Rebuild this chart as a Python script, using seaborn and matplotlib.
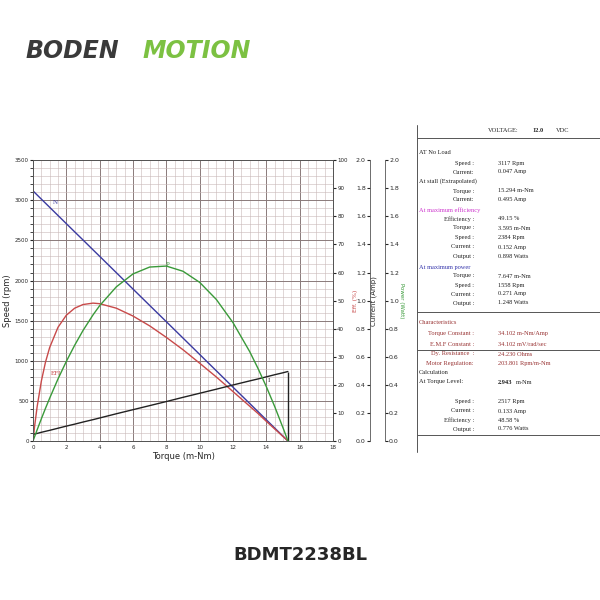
import matplotlib
matplotlib.use("Agg")
import matplotlib.pyplot as plt
import seaborn as sns
import pandas as pd
from matplotlib.ticker import MultipleLocator

sns.set_style("white")
plt.rcParams["font.family"] = ["DejaVu Sans"]

# data
torque = [0, 0.1, 0.25, 0.5, 0.75, 1, 1.5, 2, 2.5, 3, 3.6, 4, 5, 6, 7, 8, 9, 10, 11, 12, 13, 13.5, 14, 14.5, 15, 15.1, 15.294]
speed = [3117, 3097, 3066, 3015, 2964, 2913, 2811, 2709, 2607, 2506, 2383, 2302, 2098, 1894, 1690, 1487, 1283, 1079, 875, 671, 468, 366, 264, 162, 60, 40, 0]
current = [0.047, 0.050, 0.054, 0.062, 0.069, 0.076, 0.091, 0.106, 0.120, 0.135, 0.152, 0.164, 0.194, 0.223, 0.252, 0.281, 0.311, 0.340, 0.369, 0.399, 0.428, 0.442, 0.457, 0.472, 0.486, 0.489, 0.495]
eff = [0, 5.4, 12.3, 21.3, 28.1, 33.3, 40.5, 44.8, 47.3, 48.6, 49.1, 48.9, 47.3, 44.5, 41.0, 36.9, 32.5, 27.7, 22.8, 17.6, 12.4, 9.8, 7.0, 4.3, 1.6, 1.1, 0]
power = [0, 0.032, 0.080, 0.158, 0.233, 0.305, 0.442, 0.567, 0.682, 0.787, 0.898, 0.964, 1.098, 1.190, 1.239, 1.246, 1.209, 1.130, 1.008, 0.843, 0.637, 0.517, 0.387, 0.246, 0.094, 0.063, 0]
df = pd.DataFrame({"torque": torque, "speed": speed, "current": current, "eff": eff, "power": power})

fig = plt.figure(figsize=(6, 6), dpi=100)
ax = fig.add_axes([0.055, 0.265, 0.5, 0.468])

sns.lineplot(data=df, x="torque", y="speed", ax=ax, color="#3a3aa0", lw=1)
ax.set_xlim(0, 18)
ax.set_ylim(0, 3500)
ax.xaxis.set_major_locator(MultipleLocator(2))
ax.xaxis.set_minor_locator(MultipleLocator(0.5))
ax.yaxis.set_major_locator(MultipleLocator(500))
ax.yaxis.set_minor_locator(MultipleLocator(100))
ax.grid(which="major", color="#8a7a7a", lw=0.7)
ax.grid(which="minor", color="#c9b8b8", lw=0.4)
ax.tick_params(labelsize=4, length=2, pad=1)
ax.set_xlabel("Torque (m-Nm)", fontsize=6, labelpad=1)
ax.set_ylabel("Speed (rpm)", fontsize=6, labelpad=2)
for s in ax.spines.values():
    s.set_color("#555555"); s.set_linewidth(0.6)

ax2 = ax.twinx()
sns.lineplot(data=df, x="torque", y="eff", ax=ax2, color="#c84a4a", lw=1)
ax2.set_ylim(0, 100)
ax2.yaxis.set_major_locator(MultipleLocator(10))
ax2.tick_params(labelsize=4, length=2, pad=1)
ax2.set_ylabel("Eff. (%)", fontsize=4.5, color="#c84a4a")
ax2.yaxis.set_label_coords(1.065, 0.5)

ax3 = ax.twinx()
sns.lineplot(data=df, x="torque", y="current", ax=ax3, color="#222222", lw=1)
ax3.vlines(15.294, 0, 0.495, color="#222222", lw=1)
ax3.set_ylim(0, 2)
ax3.yaxis.tick_left()
ax3.yaxis.set_label_position("left")
ax3.spines["left"].set_position(("axes", 1.123))
ax3.spines["left"].set_visible(True)
ax3.yaxis.set_major_locator(MultipleLocator(0.2))
ax3.yaxis.set_major_formatter("{x:.1f}")
ax3.tick_params(labelsize=4.5, length=2, pad=1)
ax3.set_ylabel("Current (Amp)", fontsize=5)
ax3.yaxis.set_label_coords(1.148, 0.5)

ax4 = ax.twinx()
sns.lineplot(data=df, x="torque", y="power", ax=ax4, color="#3a9a3a", lw=1)
ax4.set_ylim(0, 2)
ax4.spines["right"].set_position(("axes", 1.173))
ax4.yaxis.set_major_locator(MultipleLocator(0.2))
ax4.yaxis.set_major_formatter("{x:.1f}")
ax4.tick_params(labelsize=4.5, length=2, pad=1)
ax4.set_ylabel("Power (Watt)", fontsize=4, color="#3a9a3a", rotation=270, labelpad=4)
for a in (ax2, ax3, ax4):
    for s in a.spines.values():
        s.set_linewidth(0.6); s.set_color("#555555")
    a.set_xlabel("")

ax.text(1.2, 2960, "N", color="#3a3aa0", fontsize=5, family="Liberation Serif")
ax.text(8, 2180, "P", color="#3a9a3a", fontsize=5, family="Liberation Serif")
ax.text(1.1, 820, "EFI", color="#c84a4a", fontsize=5, family="Liberation Serif")
ax.text(14.1, 740, "I", color="#222222", fontsize=5, family="Liberation Serif")

# logo
fig.text(0.042, 0.915, "BODEN", fontsize=17, fontweight="bold", style="italic", color="#3a3a3a", va="center")
fig.text(0.238, 0.915, "MOTION", fontsize=17, fontweight="bold", style="italic", color="#7cc142", va="center")
fig.text(0.5, 0.075, "BDMT2238BL", fontsize=13, fontweight="bold", ha="center", va="center")

# spec table
def px(x, y):
    return x / 600, 1 - y / 600

line = dict(color="#555555", lw=0.7, transform=fig.transFigure)
fig.add_artist(plt.Line2D(*zip(px(417, 125), px(417, 452)), **line))
for yy in (138, 312, 350, 435):
    fig.add_artist(plt.Line2D(*zip(px(417, yy), px(600, yy)), **line))

serif = dict(family="Liberation Serif", fontsize=4.6, va="center")
fig.text(*px(488, 131), "VOLTAGE:", **serif)
fig.text(*px(532, 131), "12.0", fontweight="bold", **serif)
fig.text(*px(556, 131), "VDC", **serif)

black, mag, blue, red = "#222222", "#cc33cc", "#3333aa", "#993333"
rows = [
    (152, "AT No Load", None, black, True),
    (163, "Speed :", "3117 Rpm", black, False),
    (172, "Current:", "0.047 Amp", black, False),
    (181, "At stall (Extrapolated)", None, black, True),
    (191, "Torque :", "15.294 m-Nm", black, False),
    (200, "Current:", "0.495 Amp", black, False),
    (210, "At maximum efficiency", None, mag, True),
    (219, "Efficiency :", "49.15 %", black, False),
    (228, "Torque :", "3.595 m-Nm", black, False),
    (237, "Speed :", "2384 Rpm", black, False),
    (247, "Current :", "0.152 Amp", black, False),
    (256, "Output :", "0.898 Watts", black, False),
    (267, "At maximum power", None, blue, True),
    (276, "Torque :", "7.647 m-Nm", black, False),
    (285, "Speed :", "1558 Rpm", black, False),
    (294, "Current :", "0.271 Amp", black, False),
    (303, "Output :", "1.248 Watts", black, False),
    (322, "Characteristics", None, red, True),
    (333, "Torque Constant :", "34.102 m-Nm/Amp", red, False),
    (344, "E.M.F Constant :", "34.102 mV/rad/sec", red, False),
    (354, "Dy. Resistance  :", "24.230 Ohms", red, False),
    (364, "Motor Regulation:", "203.801 Rpm/m-Nm", red, False),
    (373, "Calculation", None, black, True),
    (402, "Speed :", "2517 Rpm", black, False),
    (411, "Current :", "0.133 Amp", black, False),
    (420, "Efficiency :", "48.58 %", black, False),
    (429, "Output :", "0.776 Watts", black, False),
]
for y, lab, val, col, head in rows:
    if head:
        fig.text(*px(419, y), lab, color=col, **serif)
    else:
        fig.text(*px(474, y), lab, color=col, ha="right", **serif)
        fig.text(*px(498, y), val, color=col, **serif)
fig.text(*px(419, 382), "At Torque Level:", color=black, **serif)
fig.text(*px(498, 382), "2.943", color=black, fontweight="bold", **serif)
fig.text(*px(516, 382), "m-Nm", color=black, **serif)

fig.savefig("out.png", dpi=100, facecolor="white")
